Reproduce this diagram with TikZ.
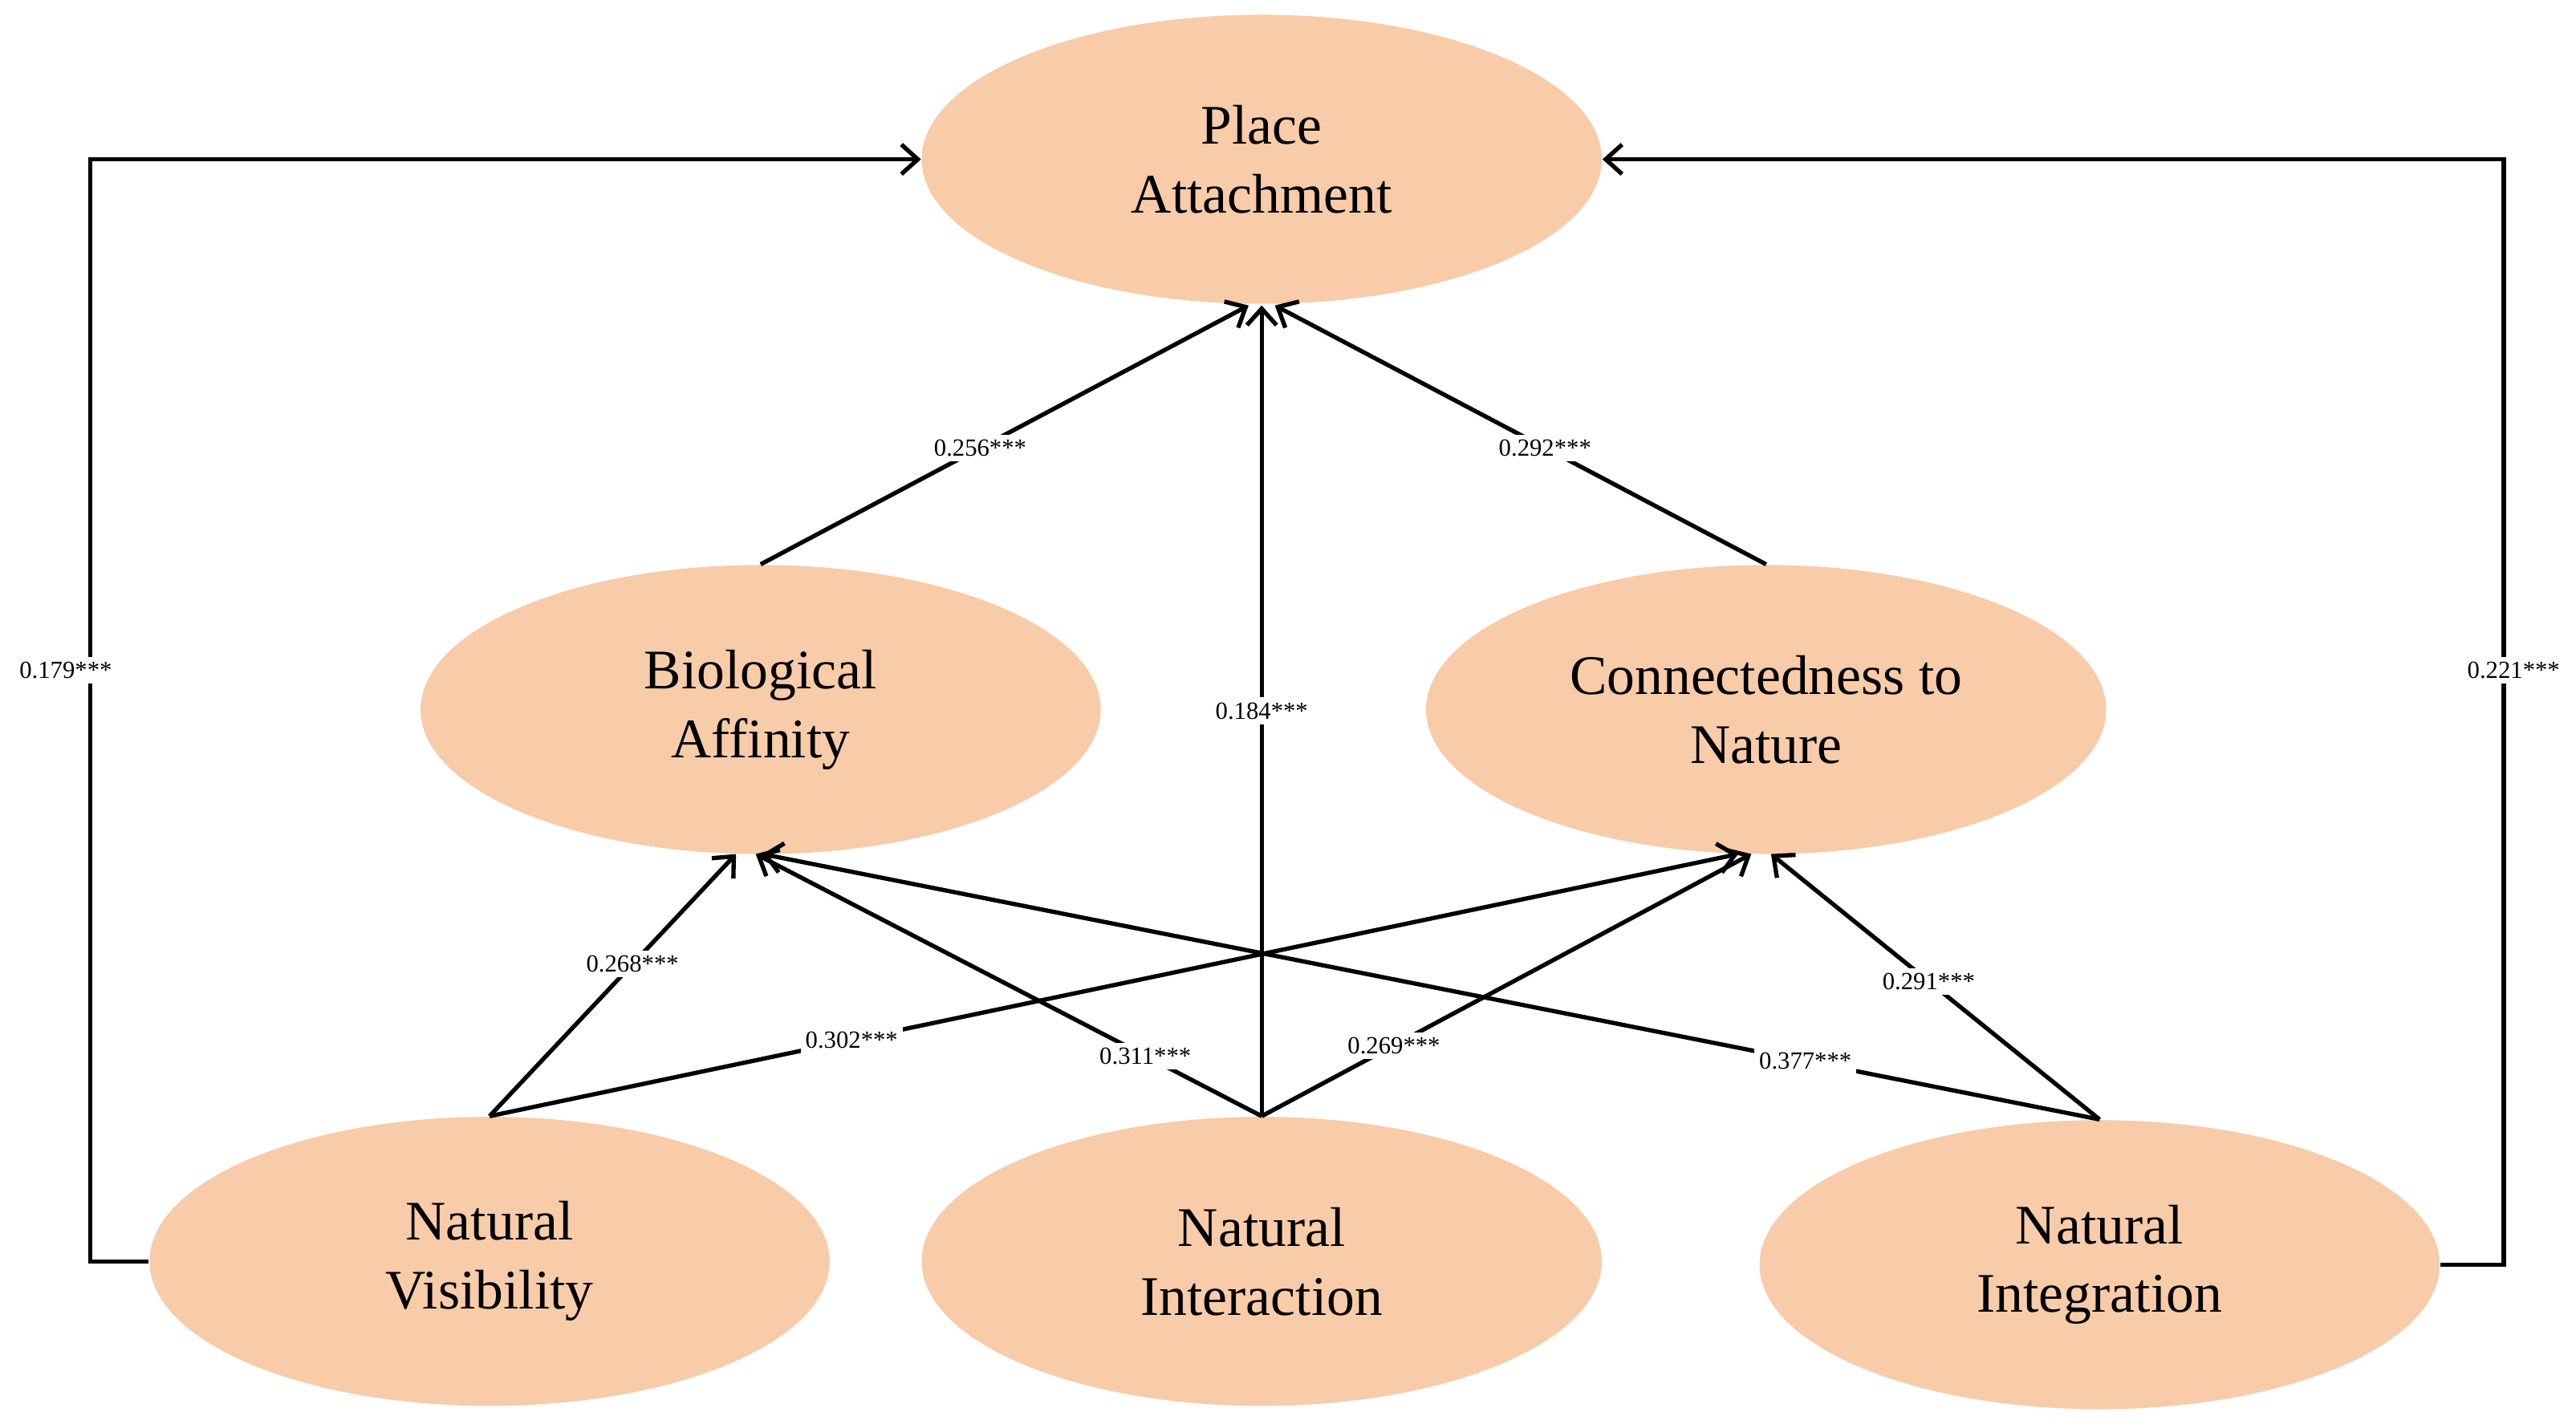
\documentclass[tikz,border=0pt]{standalone}
\usepackage{fontspec}
\setmainfont{Liberation Serif}
\usetikzlibrary{arrows.meta,shapes.geometric}
\definecolor{peach}{HTML}{F8CBA9}
\begin{document}
\begin{tikzpicture}[x=0.5pt,y=-0.5pt,
  ell/.style={ellipse,fill=peach,minimum width=207pt,minimum height=88pt,font=\fontsize{17}{21}\selectfont,align=center,inner sep=0pt},
  arr/.style={line width=1.3pt,-{Straight Barb[length=5pt,width=9pt]}},
  lab/.style={fill=white,font=\fontsize{7.5}{9}\selectfont,inner sep=1.5pt}]
\useasboundingbox (0,0) rectangle (1568,867);
\node[ell] (pa) at (768,97) {Place\\Attachment};
\node[ell] (ba) at (463,432) {Biological\\Affinity};
\node[ell] (cn) at (1075,432) {Connectedness to\\Nature};
\node[ell] (nv) at (298,768) {Natural\\Visibility};
\node[ell] (ni) at (768,768) {Natural\\Interaction};
\node[ell] (ng) at (1278,770) {Natural\\Integration};
\coordinate (l1) at (55,768); \coordinate (l2) at (55,97);
\coordinate (r1) at (1524,770); \coordinate (r2) at (1524,97);
\draw[arr] (nv.west) -- (l1) -- (l2) -- (pa.west);
\draw[arr] (ng.east) -- (r1) -- (r2) -- (pa.east);
\node[lab] at (40,408) {0.179***};
\node[lab] at (1530,408) {0.221***};
\coordinate (pab) at (768,186);
\coordinate (bab) at (460,520);
\coordinate (cnb) at (1070,520);
\draw[arr] (ba.north) -- node[lab,pos=0.45]{0.256***} ([xshift=-4]pab);
\draw[arr] (cn.north) -- node[lab,pos=0.45]{0.292***} ([xshift=4]pab);
\draw[arr] (ni.north) -- node[lab,pos=0.5]{0.184***} (pab);
\draw[arr] (nv.north) -- node[lab,pos=0.58]{0.268***} ([xshift=-6]bab);
\draw[arr] (nv.north) -- node[lab,pos=0.29]{0.302***} ([xshift=-6]cnb);
\draw[arr] (ni.north) -- node[lab,pos=0.23]{0.311***} (bab);
\draw[arr] (ni.north) -- node[lab,pos=0.27]{0.269***} ([xshift=-2]cnb);
\draw[arr] (ng.north) -- node[lab,pos=0.22]{0.377***} ([xshift=2]bab);
\draw[arr] (ng.north) -- node[lab,pos=0.52]{0.291***} ([xshift=4]cnb);
\end{tikzpicture}
\end{document}
